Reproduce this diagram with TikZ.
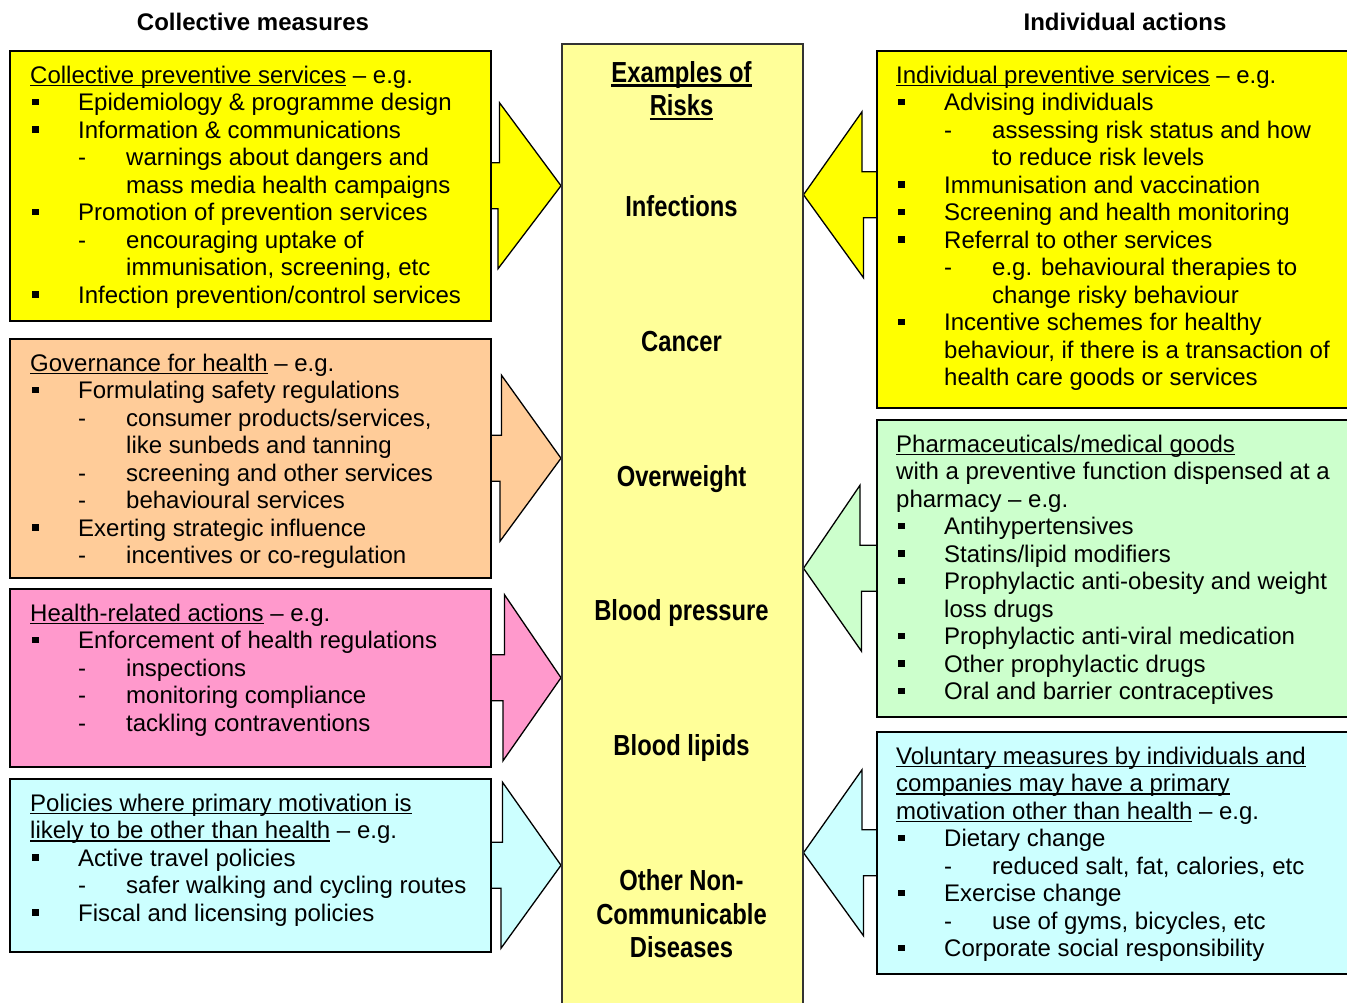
\documentclass[tikz,border=0pt]{standalone}
\usepackage{fontspec}
\setmainfont{Liberation Sans}
\newfontfamily\narrowfont{Liberation Sans}[FakeStretch=0.82]
\usetikzlibrary{calc,backgrounds}
\definecolor{boxyellow}{HTML}{FFFF00}
\definecolor{riskyellow}{HTML}{FFFF99}
\definecolor{boxorange}{HTML}{FFCC99}
\definecolor{boxpink}{HTML}{FF99CC}
\definecolor{boxcyan}{HTML}{CCFFFF}
\definecolor{boxgreen}{HTML}{CCFFCC}
\newcommand\uldepth{3pt}
\newcommand\ulthick{1.6pt}
\newcommand\ulined[1]{\setbox0\hbox{#1}\rlap{\rule[-\uldepth]{\wd0}{\ulthick}}\box0\relax}
\newcommand\bul{\makebox[48pt][l]{\hspace{2pt}\rule[5.5pt]{6.5pt}{6.5pt}}}
\newcommand\dsh{\hspace*{48pt}\makebox[48pt][l]{-}}
\newcommand\indA{\hspace*{48pt}}
\newcommand\indB{\hspace*{96pt}}
\begin{document}
\begin{tikzpicture}[x=1pt,y=-1pt]
	\tikzstyle{box}=[draw=black, line width=1.5pt, inner sep=0pt, anchor=north west]
	\tikzstyle{txt}=[anchor=north west, align=left, inner sep=0pt, font=\fontsize{24}{27.5}\selectfont]
	\tikzstyle{head}=[anchor=base, inner sep=0pt, font=\fontsize{24}{27.5}\selectfont\bfseries]
	\tikzstyle{risk}=[anchor=base, inner sep=0pt, align=center, font={\narrowfont\bfseries\fontsize{29}{33.5}\selectfont\def\uldepth{4.7pt}\def\ulthick{2.4pt}}]
	\tikzstyle{blk}=[draw=black, line width=1.3pt, line join=miter]
	\useasboundingbox (0,0) rectangle (1347,1002);

	% column headings
	\node[head] (colH) at (253,30.5) {Collective measures};
	\node[head] (indH) at (1125,30.5) {Individual actions};

	% risks
	\node[box, draw=black!80, fill=riskyellow, minimum width=241, minimum height=990] (risk) at (561,43) {};
	\node[risk, anchor=north] (riskH) at (681.5,58.5) {\strut\ulined{Examples of}\\\ulined{Risks}};
	\node[risk] (inf) at (681.5,216.5) {Infections};
	\node[risk] (can) at (681.5,351.5) {Cancer};
	\node[risk] (ovw) at (681.5,486) {Overweight};
	\node[risk] (bp) at (681.5,620) {Blood pressure};
	\node[risk] (bl) at (681.5,755) {Blood lipids};
	\node[risk, anchor=north] (ncd) at (681.5,867) {\strut Other Non-\\Communicable\\Diseases};

	% collective measures
	\node[box, fill=boxyellow, minimum width=481, minimum height=270] (cps) at (9,50) {};
	\node[box, fill=boxorange, minimum width=481, minimum height=239] (gov) at (9,338) {};
	\node[box, fill=boxpink, minimum width=481, minimum height=178] (hra) at (9,588) {};
	\node[box, fill=boxcyan, minimum width=481, minimum height=173] (pol) at (9,778) {};

	\node[txt] (cpsT) at ([shift={(21,13.75)}]cps.north west) {\strut\ulined{Collective preventive services} -- e.g.\\
		\bul Epidemiology \& programme design\\
		\bul Information \& communications\\
		\dsh warnings about dangers and\\
		\indB mass media health campaigns\\
		\bul Promotion of prevention services\\
		\dsh encouraging uptake of\\
		\indB immunisation, screening, etc\\
		\bul Infection prevention/control services};
	\node[txt] (govT) at ([shift={(21,13.75)}]gov.north west) {\strut\ulined{Governance for health} -- e.g.\\
		\bul Formulating safety regulations\\
		\dsh consumer products/services,\\
		\indB like sunbeds and tanning\\
		\dsh screening and other services\\
		\dsh behavioural services\\
		\bul Exerting strategic influence\\
		\dsh incentives or co-regulation};
	\node[txt] (hraT) at ([shift={(21,13.75)}]hra.north west) {\strut\ulined{Health-related actions} -- e.g.\\
		\bul Enforcement of health regulations\\
		\dsh inspections\\
		\dsh monitoring compliance\\
		\dsh tackling contraventions};
	\node[txt] (polT) at ([shift={(21,13.75)}]pol.north west) {\strut\ulined{Policies where primary motivation is}\\
		\ulined{likely to be other than health} -- e.g.\\
		\bul Active travel policies\\
		\dsh safer walking and cycling routes\\
		\bul Fiscal and licensing policies};

	% individual actions
	\node[box, fill=boxyellow, minimum width=490, minimum height=357] (ips) at (876,50) {};
	\node[box, fill=boxgreen, minimum width=490, minimum height=297] (pha) at (876,419) {};
	\node[box, fill=boxcyan, minimum width=490, minimum height=242] (vol) at (876,731) {};

	\node[txt] (ipsT) at ([shift={(20,13.75)}]ips.north west) {\strut\ulined{Individual preventive services} -- e.g.\\
		\bul Advising individuals\\
		\dsh assessing risk status and how\\
		\indB to reduce risk levels\\
		\bul Immunisation and vaccination\\
		\bul Screening and health monitoring\\
		\bul Referral to other services\\
		\dsh e.g. behavioural therapies to\\
		\indB change risky behaviour\\
		\bul Incentive schemes for healthy\\
		\indA behaviour, if there is a transaction of\\
		\indA health care goods or services};
	\node[txt] (phaT) at ([shift={(20,13.75)}]pha.north west) {\strut\ulined{Pharmaceuticals/medical goods}\\
		with a preventive function dispensed at a\\
		pharmacy -- e.g.\\
		\bul Antihypertensives\\
		\bul Statins/lipid modifiers\\
		\bul Prophylactic anti-obesity and weight\\
		\indA loss drugs\\
		\bul Prophylactic anti-viral medication\\
		\bul Other prophylactic drugs\\
		\bul Oral and barrier contraceptives};
	\node[txt] (volT) at ([shift={(20,13.75)}]vol.north west) {\strut\ulined{Voluntary measures by individuals and}\\
		\ulined{companies may have a primary}\\
		\ulined{motivation other than health} -- e.g.\\
		\bul Dietary change\\
		\dsh reduced salt, fat, calories, etc\\
		\bul Exercise change\\
		\dsh use of gyms, bicycles, etc\\
		\bul Corporate social responsibility};

	% block arrows into the risks column
	\coordinate (ipsTip) at ([yshift=34.5pt]ips.west);
	\begin{scope}[on background layer]
		\filldraw[blk, fill=boxyellow] ([shift={(-6,-23)}]cps.east) -- ++(14,0) -- ++(0,-60) -- (risk.west |- cps.east) -- ++(-63,83) -- ++(0,-60) -- ++(-14,0);
		\filldraw[blk, fill=boxorange] ([shift={(-6,-23)}]gov.east) -- ++(16,0) -- ++(0,-60) -- (risk.west |- gov.east) -- ++(-61,83) -- ++(0,-60) -- ++(-16,0);
		\filldraw[blk, fill=boxpink] ([shift={(-6,-23)}]hra.east) -- ++(19,0) -- ++(0,-60) -- (risk.west |- hra.east) -- ++(-58,83) -- ++(0,-60) -- ++(-19,0);
		\filldraw[blk, fill=boxcyan] ([shift={(-6,-23)}]pol.east) -- ++(17,0) -- ++(0,-60) -- (risk.west |- pol.east) -- ++(-60,83) -- ++(0,-60) -- ++(-17,0);
		\filldraw[blk, fill=boxyellow] ([shift={(6,-23)}]ipsTip) -- ++(-20,0) -- ++(0,-60) -- (risk.east |- ipsTip) -- ++(60,83) -- ++(0,-60) -- ++(20,0);
		\filldraw[blk, fill=boxgreen] ([shift={(6,-23)}]pha.west) -- ++(-22,0) -- ++(0,-60) -- (risk.east |- pha.west) -- ++(58,83) -- ++(0,-60) -- ++(22,0);
		\filldraw[blk, fill=boxcyan] ([shift={(6,-23)}]vol.west) -- ++(-20,0) -- ++(0,-60) -- (risk.east |- vol.west) -- ++(60,83) -- ++(0,-60) -- ++(20,0);
	\end{scope}
\end{tikzpicture}
\end{document}
